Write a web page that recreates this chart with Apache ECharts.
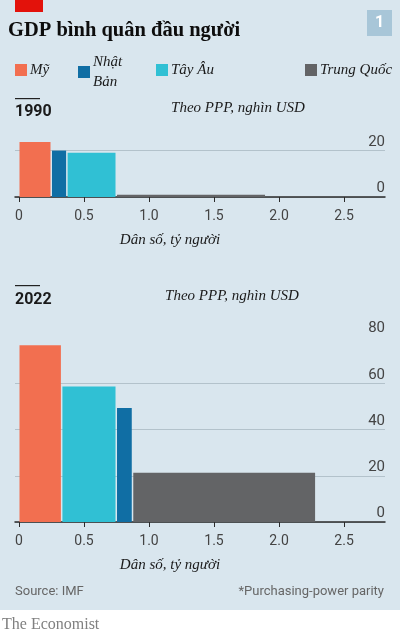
<!DOCTYPE html>
<html>
<head>
<meta charset="utf-8">
<script src="https://cdn.jsdelivr.net/npm/echarts@6/dist/echarts.min.js"></script>
<style>
  body { margin: 0; }
  #chart { width: 400px; height: 636px; background: linear-gradient(#d9e6ee 0, #d9e6ee 610px, #ffffff 610px); }
</style>
</head>
<body>
<div id="chart"></div>
<script>
// --- données --- //
const order1990 = ['Mỹ', 'Nhật Bản', 'Tây Âu', 'Trung Quốc'];
const pop1990 = [0.25, 0.12, 0.38, 1.15];   // tỷ người
const gdp1990 = [23.7, 20.0, 19.1, 1.0];    // nghìn USD
const order2022 = ['Mỹ', 'Tây Âu', 'Nhật Bản', 'Trung Quốc'];
const pop2022 = [0.33, 0.42, 0.125, 1.41];
const gdp2022 = [76.4, 58.6, 49.3, 21.3];
const xTicks = [0, 0.5, 1, 1.5, 2, 2.5];
const yTicks1990 = [0, 20];
const yTicks2022 = [0, 20, 40, 60, 80];

const colors = { 'Mỹ': '#f26f50', 'Nhật Bản': '#106ea4', 'Tây Âu': '#30c0d4', 'Trung Quốc': '#636466' };
const serif = 'Liberation Serif';
const sans = 'Roboto';

function renderBar(params, api) {
  const p0 = api.coord([api.value(0), api.value(2)]);
  const p1 = api.coord([api.value(1), 0]);
  return {
    type: 'rect',
    shape: { x: p0[0] + 0.5, y: p0[1], width: p1[0] - p0[0] - 1.5, height: p1[1] - p0[1] },
    style: { fill: api.visual('color') }
  };
}

function buildSeries(names, pops, vals, gi) {
  let acc = 0;
  return names.map((n, i) => {
    const s = {
      name: n, type: 'custom', xAxisIndex: gi, yAxisIndex: gi,
      renderItem: renderBar, color: colors[n],
      encode: { x: [0, 1], y: 2 },
      data: [[acc, acc + pops[i], vals[i]]]
    };
    acc += pops[i];
    return s;
  });
}

function xAxis(gi) {
  return {
    type: 'value', gridIndex: gi, min: -4 / 130, max: 2.815,
    splitLine: { show: false },
    axisLine: { lineStyle: { color: '#2b2b2b', width: 1.5 } },
    axisTick: { customValues: xTicks, length: 5, lineStyle: { color: '#2b2b2b' } },
    axisLabel: {
      customValues: xTicks, margin: 12, color: '#444', fontFamily: sans, fontSize: 14,
      formatter: v => v === 0 ? '0' : v.toFixed(1)
    }
  };
}

function yAxis(gi, max, ticks) {
  return {
    type: 'value', gridIndex: gi, position: 'right', min: 0, max: max, interval: 20,
    axisLine: { show: false }, axisTick: { show: false },
    splitLine: { showMaxLine: false, lineStyle: { color: '#b3c2cb', width: 1 } },
    axisLabel: {
      inside: true, showMaxLabel: max === ticks[ticks.length - 1], align: 'right', verticalAlign: 'bottom',
      margin: 0, padding: [0, 0, 1, 0], color: '#444', fontFamily: sans, fontSize: 15
    }
  };
}

function legendItem(name, left, top) {
  return {
    data: [name], left: left, top: top, icon: 'rect', itemWidth: 12, itemHeight: 12, itemGap: 3,
    selectedMode: false, padding: 0,
    formatter: n => n === 'Nhật Bản' ? 'Nhật\nBản' : n,
    textStyle: { fontFamily: serif, fontStyle: 'italic', fontSize: 15, color: '#1a1a1a', lineHeight: 20, padding: [0, 0, 0, -2] }
  };
}

function txt(x, y, text, style) {
  return { type: 'text', x: x, y: y, style: Object.assign({ text: text, fill: '#1a1a1a', verticalAlign: 'middle' }, style) };
}

const chart = echarts.init(document.getElementById('chart'));
chart.setOption({
  animation: false,
  grid: [
    { left: 15, right: 15, top: 139, height: 58 },
    { left: 15, right: 15, top: 337, height: 185 }
  ],
  xAxis: [xAxis(0), xAxis(1)],
  yAxis: [yAxis(0, 25, yTicks1990), yAxis(1, 80, yTicks2022)],
  legend: [
    legendItem('Mỹ', 15, 60),
    legendItem('Nhật Bản', 78, 52),
    legendItem('Tây Âu', 156, 60),
    legendItem('Trung Quốc', 305, 60)
  ],
  series: buildSeries(order1990, pop1990, gdp1990, 0).concat(buildSeries(order2022, pop2022, gdp2022, 1)),
  graphic: [
    { type: 'rect', shape: { x: 15, y: 0, width: 28, height: 12 }, style: { fill: '#e3120b' } },
    txt(8, 31, 'GDP bình quân đầu người', { font: 'bold 20.5px "Liberation Serif"', fill: '#0d0d0d' }),
    { type: 'rect', shape: { x: 367, y: 10, width: 25, height: 26 }, style: { fill: '#a8c6d8' } },
    txt(379.5, 23, '1', { font: 'bold 16px Roboto', fill: '#ffffff', align: 'center' }),
    // 1990
    { type: 'rect', shape: { x: 15, y: 98, width: 25, height: 1.2 }, style: { fill: '#222' } },
    txt(15, 112, '1990', { font: 'bold 16px Roboto', fill: '#1a1a1a' }),
    txt(238, 108, 'Theo PPP, nghìn USD', { font: 'italic 15px "Liberation Serif"', align: 'center' }),
    txt(170, 240, 'Dân số, tỷ người', { font: 'italic 15px "Liberation Serif"', align: 'center' }),
    // 2022
    { type: 'rect', shape: { x: 15, y: 285, width: 25, height: 1.2 }, style: { fill: '#222' } },
    txt(15, 300, '2022', { font: 'bold 16px Roboto', fill: '#1a1a1a' }),
    txt(232, 296, 'Theo PPP, nghìn USD', { font: 'italic 15px "Liberation Serif"', align: 'center' }),
    txt(170, 565, 'Dân số, tỷ người', { font: 'italic 15px "Liberation Serif"', align: 'center' }),
    // footer
    txt(15, 592, 'Source: IMF', { font: '13px Roboto', fill: '#666' }),
    txt(384, 592, '*Purchasing-power parity', { font: '13px Roboto', fill: '#666', align: 'right' }),
    txt(2, 625, 'The Economist', { font: '16px "Liberation Serif"', fill: '#808080' })
  ]
});
</script>
</body>
</html>
